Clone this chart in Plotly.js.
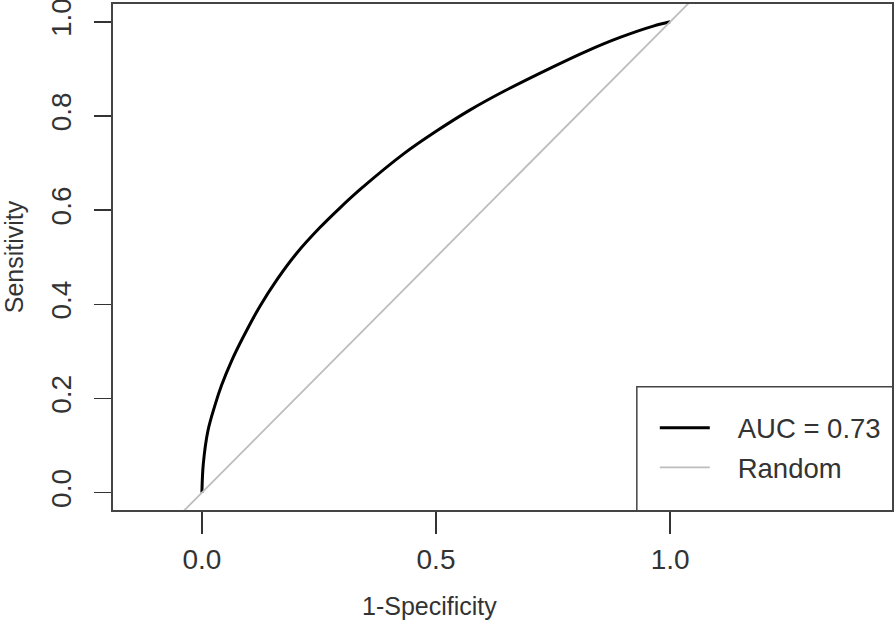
<!DOCTYPE html>
<html>
<head>
<meta charset="utf-8">
<script src="https://cdn.plot.ly/plotly-3.0.1.min.js"></script>
<style>
  html, body { margin: 0; padding: 0; background: #fff; }
  #roc { width: 896px; height: 629px; }
</style>
</head>
<body>
<div id="roc"></div>
<script>
// ROC curve (1-specificity vs sensitivity)
var fpr = [0, 0.003, 0.013, 0.028, 0.042, 0.063, 0.088, 0.124, 0.160, 0.202,
           0.252, 0.295, 0.338, 0.430, 0.501, 0.573, 0.644, 0.751, 0.822,
           0.893, 0.964, 1.0];
var tpr = [0, 0.061, 0.132, 0.186, 0.228, 0.279, 0.330, 0.396, 0.452, 0.508,
           0.563, 0.605, 0.644, 0.719, 0.768, 0.813, 0.852, 0.905, 0.938,
           0.967, 0.991, 1.0];

// chance diagonal, drawn long and clipped by the plot box
var randX = [-0.2, 1.5];
var randY = [-0.2, 1.5];

var xTicks = [0, 0.5, 1];
var xTickText = ["0.0", "0.5", "1.0"];
var yTicks = [0, 0.2, 0.4, 0.6, 0.8, 1];
var yTickText = ["0.0", "0.2", "0.4", "0.6", "0.8", "1.0"];

var font = "Liberation Sans, Arial, sans-serif";
var ink = "#333333";
var gap = "\u00a0\u00a0\u00a0"; // room between legend line and label

var data = [
  {
    x: fpr, y: tpr, type: "scatter", mode: "lines",
    name: gap + "AUC = 0.73", legendgroup: "a",
    line: { color: "#000000", width: 3, shape: "spline", smoothing: 1 }
  },
  {
    x: randX, y: randY, type: "scatter", mode: "lines",
    name: gap + "Random", legendgroup: "b",
    line: { color: "#bdbdbd", width: 1.8 }
  }
];

var layout = {
  width: 896, height: 629,
  margin: { l: 112, r: 3, t: 3, b: 118 },
  paper_bgcolor: "#ffffff", plot_bgcolor: "#ffffff",
  font: { family: font, color: ink },
  showlegend: true,
  legend: {
    x: 0.695, y: 0.212, xanchor: "left", yanchor: "top",
    bgcolor: "rgba(0,0,0,0)", borderwidth: 0,
    font: { size: 27.5, color: ink },
    tracegroupgap: 1, itemwidth: 50
  },
  xaxis: {
    range: [-0.192, 1.476], showgrid: false, zeroline: false,
    showline: false, ticks: "outside", ticklen: 22, tickwidth: 1.5,
    tickcolor: ink, tickvals: xTicks, ticktext: xTickText,
    tickfont: { size: 28, color: ink }, ticklabelstandoff: 1
  },
  yaxis: {
    range: [-0.039, 1.040], showgrid: false, zeroline: false,
    showline: false, ticks: "outside", ticklen: 17, tickwidth: 1.5,
    tickcolor: ink, tickvals: yTicks, ticktext: yTickText, tickangle: -90,
    tickfont: { size: 28, color: ink }, ticklabelstandoff: 12,
    ticklabeloverflow: "allow",
    title: { text: "Sensitivity", font: { size: 25, color: ink }, standoff: 19 }
  },
  shapes: [
    // plot frame
    { type: "rect", xref: "paper", yref: "paper", x0: 0, x1: 1, y0: 0, y1: 1,
      line: { color: "#444444", width: 2 } },
    // legend frame
    { type: "rect", xref: "paper", yref: "paper", x0: 0.672, x1: 1, y0: 0, y1: 0.2446,
      line: { color: "#444444", width: 1.5 }, fillcolor: "rgba(0,0,0,0)" }
  ],
  annotations: [
    { text: "1-Specificity", xref: "x", yref: "paper", x: 0.487, y: -0.187,
      showarrow: false, xanchor: "center", yanchor: "middle",
      font: { size: 25, color: ink } }
  ]
};

Plotly.newPlot("roc", data, layout, { displayModeBar: false, staticPlot: true });
</script>
</body>
</html>
